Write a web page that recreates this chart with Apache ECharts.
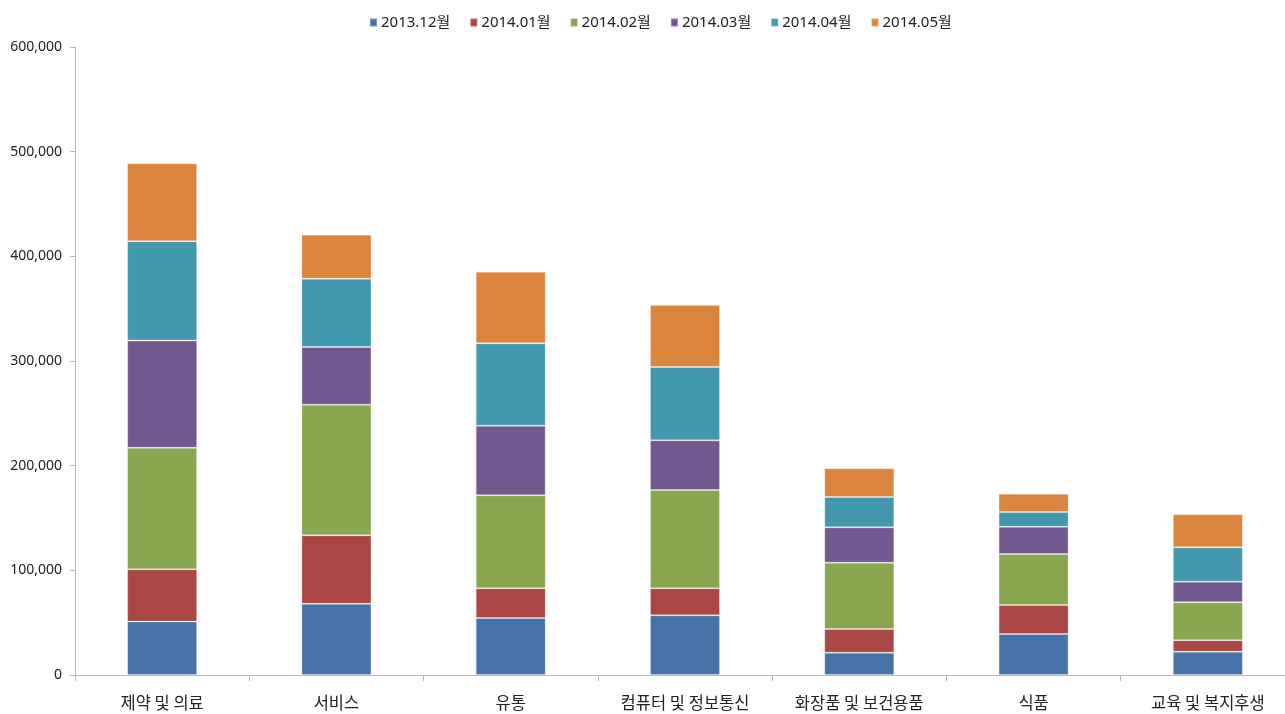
<!DOCTYPE html>
<html>
<head>
<meta charset="utf-8">
<script src="https://cdn.jsdelivr.net/npm/echarts@6/dist/echarts.min.js"></script>
<style>
  html, body { margin: 0; padding: 0; background: #fff; }
  #chart { width: 1285px; height: 714px; }
</style>
</head>
<body>
<div id="chart"></div>
<script>
// 업종별 월간 수치
const categories = ['제약 및 의료', '서비스', '유통', '컴퓨터 및 정보통신', '화장품 및 보건용품', '식품', '교육 및 복지후생'];
const seriesNames = ['2013.12월', '2014.01월', '2014.02월', '2014.03월', '2014.04월', '2014.05월'];

const dec2013 = [51000, 68000, 54500, 57000, 21300, 39200, 22300];
const jan2014 = [50000, 65400, 28300, 25800, 22600, 27700, 10900];
const feb2014 = [116000, 124800, 88900, 93900, 63400, 48700, 36300];
const mar2014 = [102500, 55100, 66500, 47500, 33800, 26100, 19700];
const apr2014 = [95000, 65300, 78700, 70100, 29000, 14000, 32800];
const may2014 = [74400, 42100, 68400, 59200, 27400, 17500, 31500];

const yTicks = [0, 100000, 200000, 300000, 400000, 500000, 600000];

const colors = ['#4572A7', '#AA4643', '#89A54E', '#71588F', '#4198AF', '#DB843D'];
const allData = [dec2013, jan2014, feb2014, mar2014, apr2014, may2014];

const chart = echarts.init(document.getElementById('chart'));

const option = {
  animation: false,
  color: colors,
  textStyle: { fontFamily: '"Noto Sans", "Noto Sans CJK KR", sans-serif' },
  legend: {
    top: 10,
    left: 364,
    icon: 'rect',
    itemWidth: 7,
    itemHeight: 8,
    itemGap: 19,
    textStyle: { fontSize: 15, color: '#222', padding: [0, 0, 0, -1] },
    data: seriesNames
  },
  // 플롯 영역은 오른쪽 가장자리 밖까지 이어짐
  grid: {
    left: 75,
    width: 1220,
    top: 47,
    bottom: 39,
    outerBoundsMode: 'none'
  },
  xAxis: {
    type: 'category',
    data: categories,
    axisLine: { lineStyle: { color: '#b8b8b8', width: 1 } },
    axisTick: { show: true, length: 6, lineStyle: { color: '#b8b8b8' } },
    axisLabel: {
      fontSize: 16.5,
      color: '#222',
      margin: 19,
      fontFamily: '"Noto Sans CJK KR", sans-serif'
    }
  },
  yAxis: {
    type: 'value',
    min: yTicks[0],
    max: yTicks[yTicks.length - 1],
    interval: 100000,
    splitLine: { show: false },
    axisLine: { show: true, lineStyle: { color: '#b8b8b8' } },
    axisTick: { show: true, length: 5, lineStyle: { color: '#b8b8b8' } },
    axisLabel: {
      fontSize: 14,
      color: '#222',
      margin: 13,
      formatter: v => v.toLocaleString('en-US')
    }
  },
  series: seriesNames.map((name, i) => ({
    name: name,
    type: 'bar',
    stack: 'total',
    barWidth: 70,
    data: allData[i],
    itemStyle: {
      color: colors[i],
      borderColor: 'rgba(255,255,255,0.25)',
      borderWidth: 1
    }
  }))
};

chart.setOption(option);
</script>
</body>
</html>
